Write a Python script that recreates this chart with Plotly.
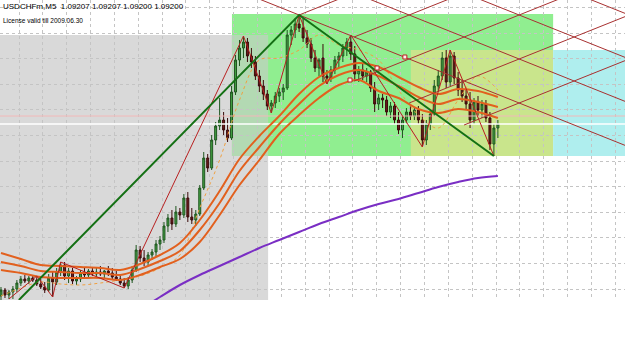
import plotly.graph_objects as go

# ---- price scale: chart points -> price ----
BASE = 1.08500
POINT = 0.00004

def px(vals):
    return [BASE + v * POINT for v in vals]

# ---- candles (USDCHFm, M5) in chart points above BASE ----
bars = list(range(126))
open_pts = [4, 10, 5, 8, 11, 17, 21, 19, 22, 20,
            16, 13, 10, 22, 18, 28, 35, 24, 29, 19,
            21, 27, 25, 29, 26, 28, 26, 29, 27, 23,
            21, 17, 14, 20, 30, 50, 42, 38, 45, 48,
            56, 60, 74, 82, 76, 88, 85, 102, 83, 80,
            86, 112, 142, 132, 160, 174, 180, 170, 162, 208,
            240, 252, 258, 244, 238, 224, 214, 206, 194, 197,
            204, 208, 212, 265, 270, 276, 272, 262, 256, 242,
            232, 242, 224, 222, 230, 240, 244, 252, 258, 246,
            226, 230, 224, 228, 212, 196, 202, 200, 188, 194,
            180, 170, 180, 188, 184, 190, 180, 160, 176, 186,
            214, 224, 242, 218, 244, 222, 210, 204, 196, 180,
            198, 190, 196, 182, 156, 172]
high_pts = [13, 12, 10, 14, 20, 24, 25, 24, 25, 24,
            21, 18, 26, 28, 32, 38, 38, 32, 32, 24,
            30, 32, 31, 32, 32, 34, 30, 34, 32, 29,
            26, 22, 23, 34, 55, 54, 50, 48, 51, 60,
            64, 78, 86, 90, 94, 92, 106, 108, 92, 90,
            115, 148, 146, 165, 178, 202, 188, 182, 214, 245,
            260, 264, 262, 252, 244, 230, 220, 210, 200, 208,
            212, 216, 270, 274, 282, 285, 282, 270, 262, 250,
            242, 256, 230, 234, 244, 248, 256, 262, 265, 254,
            234, 236, 232, 230, 218, 206, 206, 204, 198, 198,
            188, 184, 192, 194, 192, 194, 186, 180, 190, 220,
            230, 248, 250, 250, 248, 228, 220, 210, 208, 202,
            204, 200, 200, 188, 176, 180]
low_pts = [0, 2, 1, 1, 8, 14, 17, 16, 18, 14,
           11, 7, 8, 3, 15, 24, 20, 17, 16, 15,
           18, 22, 22, 24, 23, 24, 22, 24, 20, 19,
           15, 12, 11, 17, 28, 38, 34, 35, 40, 44,
           50, 57, 68, 70, 73, 80, 82, 78, 76, 74,
           84, 110, 128, 130, 155, 170, 165, 158, 160, 205,
           234, 242, 238, 232, 220, 208, 200, 190, 187, 192,
           198, 200, 210, 255, 262, 268, 258, 252, 238, 228,
           224, 218, 216, 218, 226, 232, 238, 244, 240, 220,
           218, 220, 218, 208, 188, 190, 192, 184, 182, 176,
           166, 162, 176, 180, 180, 176, 153, 155, 170, 184,
           208, 220, 212, 214, 216, 204, 198, 190, 172, 176,
           184, 182, 178, 150, 144, 162]
close_pts = [10, 5, 8, 11, 17, 21, 19, 22, 20, 16,
             13, 10, 22, 18, 28, 35, 24, 29, 19, 21,
             27, 25, 29, 26, 28, 26, 29, 27, 23, 21,
             17, 14, 20, 30, 50, 42, 38, 45, 48, 56,
             60, 74, 82, 76, 88, 85, 102, 83, 80, 86,
             112, 142, 132, 160, 174, 180, 170, 162, 208, 240,
             252, 258, 244, 238, 224, 214, 206, 194, 197, 204,
             208, 212, 265, 270, 276, 272, 262, 256, 242, 232,
             240, 224, 222, 230, 240, 244, 252, 258, 246, 226,
             230, 224, 228, 212, 196, 202, 200, 188, 194, 180,
             170, 180, 188, 184, 190, 180, 160, 176, 186, 214,
             224, 242, 218, 244, 222, 210, 204, 196, 180, 198,
             190, 196, 182, 156, 172, 176]

# ---- indicator samples (every 5 bars) ----
ma_bars = list(range(0, 126, 5))
ma_high_pts = [47, 41, 35, 34, 33, 32, 30, 36, 45, 57, 80, 109, 141, 164,
               184, 206, 223, 232, 237, 233, 223, 213, 206, 211, 209, 203]
ma_mid_pts = [38, 34, 29, 28, 27, 27, 25, 31, 39, 49, 70, 97, 129, 153,
              176, 196, 214, 225, 230, 224, 214, 203, 196, 201, 198, 193]
ma_low_pts = [30, 27, 23, 22, 22, 22, 20, 25, 33, 41, 58, 85, 115, 140,
              166, 185, 202, 215, 220, 209, 202, 191, 187, 191, 188, 182]
lead_pts = [4, 12, 18, 16, 15, 17, 20, 24, 32, 45, 92, 140, 200, 240,
            242, 250, 265, 255, 250, 240, 210, 185, 172, 200, 224, 210]
slow_bars = [38, 40, 45, 50, 55, 60, 65, 70, 75, 80, 85, 90, 95, 100,
             105, 110, 115, 120, 125]
slow_pts = [-2, 3, 15, 25, 34, 43, 52, 60, 68, 76, 83, 90, 96, 101,
            107, 113, 118, 122, 124]

# ---- drawing objects ----
zigzag_bars = [2, 9, 13, 15, 31, 61, 68, 75, 82, 88, 106, 113, 124]
zigzag_pts = [1, 24, 3, 38, 12, 264, 187, 285, 216, 265, 153, 250, 144]
trend_bars = [4.5, 75, 124]
trend_pts = [0, 285, 144]
marker_bars = [87.8, 94.6, 101.6]
marker_pts = [220, 232, 243]
hline_pink = 184
hline_white = 176
# Gann grid: anchor bar/points, slope (points per bar), step (points)
gann_anchor = (75, 285)
gann_slope = 1.59
gann_step = 44
gann_lines = [("d", 0, 60, 157), ("d", -1, 90, 157), ("d", -2, 118, 157),
              ("d", -3, 146, 157), ("a", 0, 75, 86), ("a", 1, 88.8, 114),
              ("a", 2, 88.8, 141), ("a", 3, 102.7, 157), ("a", 4, 116.5, 157)]
# rectangles: (bar0, bar1, pts0, pts1, colour)
rects = [(-1, 67.2, -5, 265, "#d9d9d9"),
         (58.1, 138.9, 144, 286, "#90ee90"),
         (58.1, 67.2, 144, 265, "#b3d9b3"),
         (103.1, 138.9, 144, 250, "#c9e58c"),
         (138.9, 160, 144, 250, "#afeeee")]

fig = go.Figure()

shapes = []
for b0, b1, p0, p1, col in rects:
    shapes.append(dict(type="rect", xref="x", yref="y", x0=b0, x1=b1,
                       y0=BASE + p0 * POINT, y1=BASE + p1 * POINT,
                       fillcolor=col, line=dict(width=0), layer="below"))

# horizontal lines
for val, col, w in [(hline_pink, "#f2b8b8", 1), (hline_white, "#ffffff", 1.5)]:
    fig.add_trace(go.Scatter(x=[-1, 160], y=px([val, val]), mode="lines",
                             line=dict(color=col, width=w), hoverinfo="skip",
                             showlegend=False))

# slow MA
fig.add_trace(go.Scatter(x=slow_bars, y=px(slow_pts), mode="lines",
                         line=dict(color="#7a2ec4", width=2, shape="spline"),
                         showlegend=False))
# dotted leading line
fig.add_trace(go.Scatter(x=ma_bars, y=px(lead_pts), mode="lines",
                         line=dict(color="#f0a040", width=1, dash="dot", shape="spline"),
                         showlegend=False))

# candles
fig.add_trace(go.Candlestick(
    x=bars, open=px(open_pts), high=px(high_pts), low=px(low_pts), close=px(close_pts),
    increasing=dict(line=dict(color="#1f561f", width=1), fillcolor="#43a043"),
    decreasing=dict(line=dict(color="#3a0a0a", width=1), fillcolor="#6e1c1c"),
    whiskerwidth=0, showlegend=False))

# MA band
for arr in (ma_high_pts, ma_mid_pts, ma_low_pts):
    fig.add_trace(go.Scatter(x=ma_bars, y=px(arr), mode="lines",
                             line=dict(color="#e2601e", width=2, shape="spline"),
                             showlegend=False))

# zigzag
fig.add_trace(go.Scatter(x=zigzag_bars, y=px(zigzag_pts), mode="lines",
                         line=dict(color="#b82020", width=1), showlegend=False))

# Gann grid
ab, ap = gann_anchor
for kind, k, b0, b1 in gann_lines:
    sgn = -1 if kind == "d" else 1
    ys = [ap + sgn * gann_slope * (b - ab) - gann_step * k for b in (b0, b1)]
    fig.add_trace(go.Scatter(x=[b0, b1], y=px(ys), mode="lines",
                             line=dict(color="#a83030", width=1), showlegend=False))

# trend lines
fig.add_trace(go.Scatter(x=trend_bars, y=px(trend_pts), mode="lines",
                         line=dict(color="#147014", width=2), showlegend=False))

# anchor markers
fig.add_trace(go.Scatter(x=marker_bars, y=px(marker_pts), mode="markers",
                         marker=dict(symbol="square", size=4, color="#fff0f0",
                                     line=dict(color="#c02020", width=1)),
                         showlegend=False))

fig.add_annotation(xref="paper", yref="paper", x=0.002, y=0.98, xanchor="left",
                   yanchor="middle", showarrow=False,
                   text="USDCHFm,M5  1.09207 1.09207 1.09200 1.09200",
                   font=dict(family="Liberation Sans", size=8, color="black"))
fig.add_annotation(xref="paper", yref="paper", x=0.002, y=0.93, xanchor="left",
                   yanchor="middle", showarrow=False,
                   text="License valid till 2009.06.30",
                   font=dict(family="Liberation Sans", size=6.5, color="black"))

fig.update_layout(
    width=625, height=356, margin=dict(l=0, r=0, t=0, b=56),
    paper_bgcolor="white", plot_bgcolor="white", showlegend=False,
    shapes=shapes,
    xaxis=dict(range=[-0.25, 156.98], showticklabels=False, zeroline=False,
               showgrid=True, gridcolor="#c4c4c4", griddash="dot", gridwidth=1,
               tick0=4.53, dtick=6, rangeslider=dict(visible=False), fixedrange=True),
    yaxis=dict(range=[BASE, BASE + 300 * POINT], showticklabels=False, zeroline=False,
               showgrid=True, gridcolor="#c4c4c4", griddash="dot", gridwidth=1,
               tick0=BASE + 11 * POINT, dtick=25.6 * POINT, fixedrange=True),
)

fig.write_html("out.html")
